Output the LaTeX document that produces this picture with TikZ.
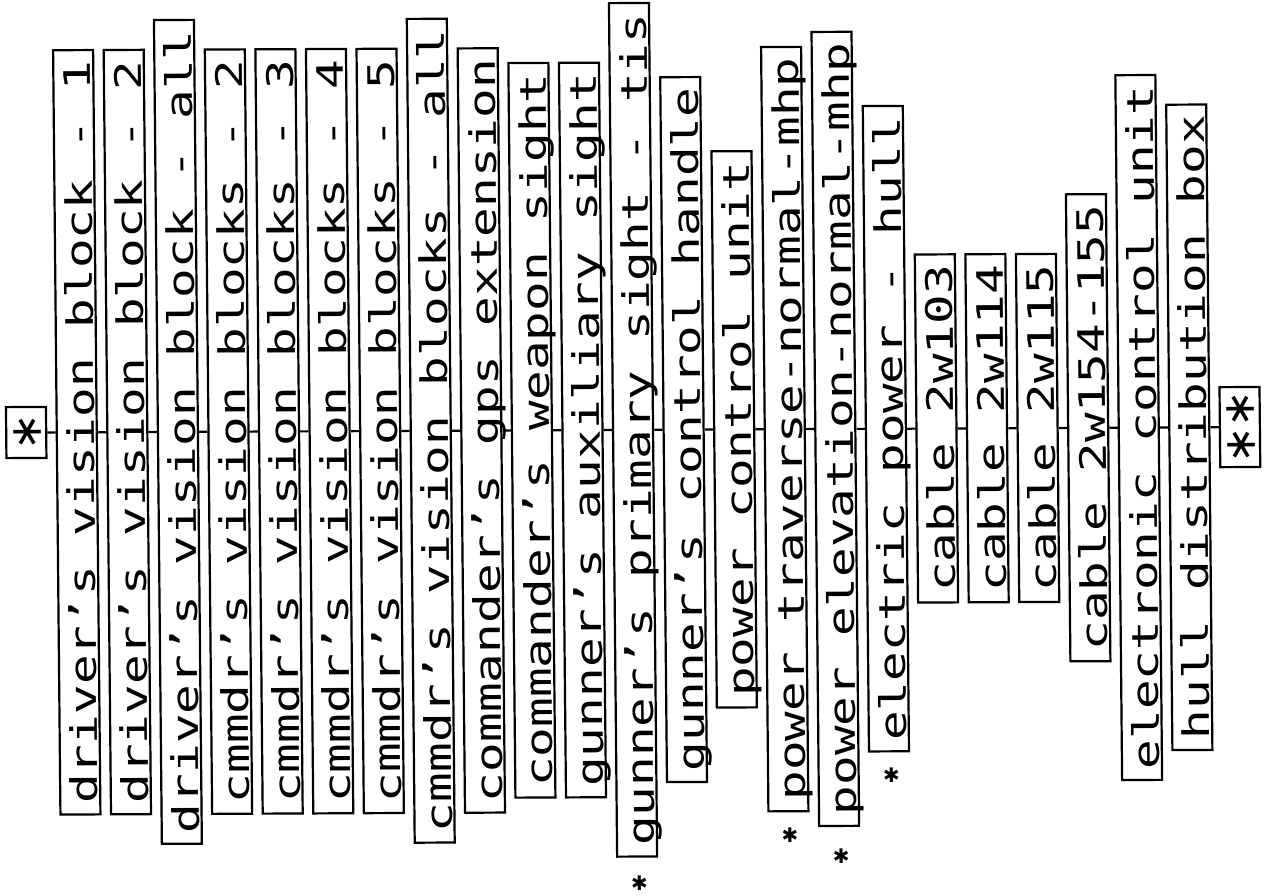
\documentclass[tikz,border=0pt]{standalone}
\usepackage{fontspec}
\newfontfamily\plotfont[FakeStretch=1.353]{DejaVu Sans Mono}
\newfontfamily\symfont{DejaVu Sans}
\begin{document}
\begin{tikzpicture}[x=1bp,y=-1bp,
  part/.style={draw, line width=2.2bp, rotate=90,
    font=\plotfont\fontsize{36.5bp}{40bp}\selectfont,
    inner xsep=10.5bp, inner ysep=2.5bp, text height=35bp, text depth=0bp},
  endbox/.style={draw, line width=2.2bp, rotate=90,
    font=\symfont\fontsize{44bp}{44bp}\selectfont,
    inner xsep=0bp, inner ysep=0bp, text height=35bp, text depth=5bp},
  link/.style={line width=2.2bp},
  starnote/.style={font=\symfont\fontsize{20bp}{20bp}\selectfont, inner sep=0pt}]
\useasboundingbox (0,0) rectangle (1267,896);
\begin{scope}[cm={1,0.0045,-0.0096,1,(-4.13bp,-2.85bp)}, transform shape]
\node[endbox, minimum width=51bp] (n0) at (26.2, 429.8) {∗};
\foreach \t [count=\i from 1] in {
  driver’s vision block - 1,
  driver’s vision block - 2,
  driver’s vision block - all,
  cmmdr’s vision blocks - 2,
  cmmdr’s vision blocks - 3,
  cmmdr’s vision blocks - 4,
  cmmdr’s vision blocks - 5,
  cmmdr’s vision blocks - all,
  commander’s gps extension,
  commander’s weapon sight,
  gunner’s auxiliary sight,
  gunner’s primary sight - tis,
  gunner’s control handle,
  power control unit,
  power traverse-normal-mhp,
  power elevation-normal-mhp,
  electric power - hull,
  cable 2w103,
  cable 2w114,
  cable 2w115,
  cable 2w154-155,
  electronic control unit,
  hull distribution box}
  \node[part] (n\i) at (26.2+50.57*\i, 429.8) {\t};
\node[endbox, minimum width=80bp] (n24) at (1239.88, 429.8) {∗∗};
\foreach \i [evaluate=\i as \j using int(\i+1)] in {0,...,23}
  \draw[link] (n\i) -- (n\j);
\node[starnote] (s12) at (635,883) {✱};
\node[starnote] (s15) at (786,836) {✱};
\node[starnote] (s16) at (837,857) {✱};
\node[starnote] (s17) at (888,776) {✱};
\end{scope}
\end{tikzpicture}
\end{document}
